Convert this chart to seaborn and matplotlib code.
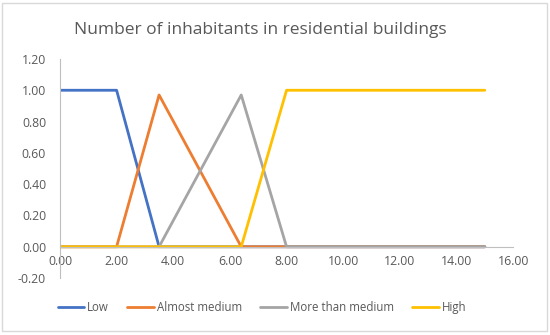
import matplotlib
matplotlib.use('Agg')
import matplotlib.pyplot as plt
import seaborn as sns
import pandas as pd
from matplotlib.patches import Rectangle

# データ
low_x = [0.0, 2.0, 3.5, 15.0]
low_y = [1.0, 1.0, 0.0, 0.0]

almost_x = [0.0, 2.0, 3.5, 6.4, 15.0]
almost_y = [0.0, 0.0, 0.97, 0.0, 0.0]

more_x = [0.0, 3.5, 6.4, 8.0, 15.0]
more_y = [0.0, 0.0, 0.97, 0.0, 0.0]

high_x = [0.0, 6.4, 8.0, 15.0]
high_y = [0.0, 0.0, 1.0, 1.0]

series_names = ['Low', 'Almost medium', 'More than medium', 'High']
colors = ['#4472C4', '#ED7D31', '#A5A5A5', '#FFC000']

x_ticks = [0, 2, 4, 6, 8, 10, 12, 14, 16]
y_ticks = [-0.2, 0.0, 0.2, 0.4, 0.6, 0.8, 1.0, 1.2]

sns.set_style('white')
plt.rcParams['font.family'] = ['Open Sans', 'DejaVu Sans']

fig = plt.figure(figsize=(5.5, 3.35), dpi=100)
ax = fig.add_axes([0.109, 0.170, 0.824, 0.654])

all_x = [low_x, almost_x, more_x, high_x]
all_y = [low_y, almost_y, more_y, high_y]
for name, xs, ys, c in zip(series_names, all_x, all_y, colors):
    df = pd.DataFrame({'x': xs, 'y': ys})
    sns.lineplot(data=df, x='x', y='y', ax=ax, color=c, linewidth=2,
                 label=name, sort=False, solid_joinstyle='round')

ax.set_xlim(0, 16)
ax.set_ylim(-0.2, 1.2)
ax.set_xticks(x_ticks)
ax.set_xticklabels([f'{v:.2f}' for v in x_ticks])
ax.set_yticks(y_ticks)
ax.set_yticklabels([f'{v:.2f}' for v in y_ticks])
ax.set_xlabel('')
ax.set_ylabel('')

for s in ['top', 'right']:
    ax.spines[s].set_visible(False)
ax.spines['bottom'].set_position(('data', 0))
ax.spines['bottom'].set_color('#BFBFBF')
ax.spines['left'].set_color('#BFBFBF')
ax.spines['bottom'].set_linewidth(0.8)
ax.spines['left'].set_linewidth(0.8)
ax.tick_params(axis='both', length=0, labelsize=8.8, colors='#595959')
ax.tick_params(axis='x', pad=6)
ax.tick_params(axis='y', pad=10)
ax.grid(False)

fig.text(0.473, 0.91, 'Number of inhabitants in residential buildings',
         fontsize=12.5, color='#595959', ha='center', va='center')

handles, labels = ax.get_legend_handles_labels()
ax.get_legend().remove()
fig.legend(handles, labels, loc='center', bbox_to_anchor=(0.476, 0.081), ncol=4,
           frameon=False, fontsize=8.3, handlelength=2.3, handletextpad=0.25,
           columnspacing=1.6, labelcolor='#595959')

fig.patches.append(Rectangle((0.004, 0.012), 0.99, 0.978, transform=fig.transFigure,
                             fill=False, edgecolor='#D9D9D9', linewidth=1))

plt.savefig('out.png', dpi=100)
